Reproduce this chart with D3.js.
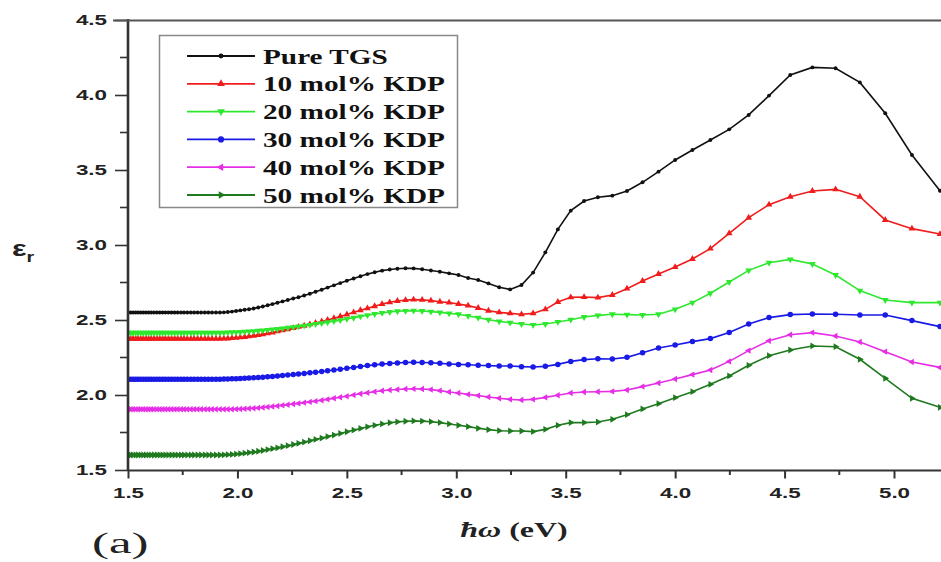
<!DOCTYPE html>
<html>
<head>
<meta charset="utf-8">
<script src="https://cdn.jsdelivr.net/npm/d3@7"></script>
<style>
  body { margin: 0; background: #fff; }
  svg { display: block; }
  .tick-label { font: bold 14px "Liberation Sans", Arial, sans-serif; fill: #222; }
  .legend-label { font: bold 22px "Liberation Serif", "Times New Roman", serif; fill: #111; }
</style>
</head>
<body>
<svg id="chart" width="941" height="562"></svg>
<script>
// photon energy (eV) shared by all samples
var energy = [1.501, 1.512, 1.523, 1.535, 1.546, 1.558, 1.570, 1.582, 1.594, 1.606,
  1.619, 1.632, 1.645, 1.658, 1.671, 1.685, 1.699, 1.713, 1.727, 1.742,
  1.756, 1.771, 1.787, 1.802, 1.818, 1.834, 1.851, 1.867, 1.884, 1.902,
  1.920, 1.938, 1.956, 1.975, 1.994, 2.013, 2.033, 2.053, 2.074, 2.095,
  2.116, 2.138, 2.160, 2.183, 2.206, 2.230, 2.255, 2.279, 2.305, 2.331,
  2.357, 2.385, 2.412, 2.441, 2.470, 2.500, 2.531, 2.562, 2.594, 2.627,
  2.661, 2.696, 2.731, 2.768, 2.805, 2.844, 2.884, 2.925, 2.967, 3.010,
  3.054, 3.100, 3.147, 3.196, 3.246, 3.298, 3.351, 3.407, 3.464, 3.523,
  3.584, 3.647, 3.713, 3.780, 3.851, 3.924, 4.000, 4.079, 4.161, 4.247,
  4.336, 4.429, 4.526, 4.627, 4.733, 4.844, 4.960, 5.082, 5.210];

var pureTGS = [2.55, 2.55, 2.55, 2.55, 2.55, 2.55, 2.55, 2.55, 2.55, 2.55,
  2.55, 2.55, 2.55, 2.55, 2.55, 2.55, 2.55, 2.55, 2.55, 2.55,
  2.55, 2.55, 2.55, 2.55, 2.55, 2.55, 2.55, 2.55, 2.55, 2.55,
  2.55, 2.551, 2.553, 2.556, 2.56, 2.564, 2.568, 2.572, 2.577, 2.583,
  2.59, 2.598, 2.606, 2.615, 2.624, 2.633, 2.643, 2.652, 2.663, 2.675,
  2.688, 2.702, 2.716, 2.731, 2.746, 2.762, 2.777, 2.792, 2.806, 2.818,
  2.829, 2.837, 2.842, 2.845, 2.844, 2.838, 2.83, 2.822, 2.811, 2.80,
  2.78, 2.767, 2.744, 2.718, 2.704, 2.733, 2.816, 2.951, 3.104, 3.229,
  3.293, 3.318, 3.329, 3.36, 3.418, 3.489, 3.567, 3.633, 3.70, 3.771,
  3.867, 3.996, 4.133, 4.184, 4.178, 4.084, 3.878, 3.60, 3.362];

var kdp10 = [2.375, 2.375, 2.375, 2.375, 2.375, 2.375, 2.375, 2.375, 2.375, 2.375,
  2.375, 2.375, 2.375, 2.375, 2.375, 2.375, 2.375, 2.375, 2.375, 2.375,
  2.375, 2.375, 2.375, 2.375, 2.375, 2.375, 2.375, 2.375, 2.375, 2.375,
  2.375, 2.376, 2.377, 2.379, 2.381, 2.384, 2.387, 2.391, 2.395, 2.40,
  2.405, 2.411, 2.417, 2.424, 2.431, 2.438, 2.446, 2.454, 2.462, 2.471,
  2.48, 2.49, 2.50, 2.512, 2.524, 2.537, 2.551, 2.565, 2.578, 2.592,
  2.606, 2.618, 2.627, 2.633, 2.636, 2.634, 2.629, 2.622, 2.616, 2.607,
  2.596, 2.58, 2.562, 2.551, 2.544, 2.538, 2.544, 2.571, 2.62, 2.651,
  2.653, 2.649, 2.667, 2.709, 2.76, 2.807, 2.853, 2.907, 2.976, 3.078,
  3.182, 3.269, 3.322, 3.36, 3.371, 3.322, 3.167, 3.109, 3.073];

var kdp20 = [2.415, 2.415, 2.415, 2.415, 2.415, 2.415, 2.415, 2.415, 2.415, 2.415,
  2.415, 2.415, 2.415, 2.415, 2.415, 2.415, 2.415, 2.415, 2.415, 2.415,
  2.415, 2.415, 2.415, 2.415, 2.415, 2.415, 2.415, 2.415, 2.415, 2.415,
  2.415, 2.416, 2.417, 2.418, 2.419, 2.42, 2.422, 2.424, 2.426, 2.428,
  2.431, 2.434, 2.437, 2.44, 2.444, 2.448, 2.452, 2.457, 2.462, 2.467,
  2.473, 2.479, 2.485, 2.492, 2.499, 2.507, 2.515, 2.524, 2.532, 2.54,
  2.547, 2.553, 2.558, 2.561, 2.562, 2.56, 2.556, 2.551, 2.544, 2.538,
  2.527, 2.516, 2.502, 2.491, 2.482, 2.473, 2.467, 2.473, 2.487, 2.502,
  2.52, 2.531, 2.538, 2.536, 2.533, 2.538, 2.571, 2.616, 2.678, 2.753,
  2.831, 2.882, 2.904, 2.873, 2.80, 2.696, 2.633, 2.616, 2.616];

var kdp30 = [2.105, 2.105, 2.105, 2.105, 2.105, 2.105, 2.105, 2.105, 2.105, 2.105,
  2.105, 2.105, 2.105, 2.105, 2.105, 2.105, 2.105, 2.105, 2.105, 2.105,
  2.105, 2.105, 2.105, 2.105, 2.105, 2.105, 2.105, 2.105, 2.105, 2.105,
  2.105, 2.106, 2.107, 2.108, 2.109, 2.11, 2.111, 2.113, 2.115, 2.117,
  2.119, 2.121, 2.124, 2.127, 2.13, 2.133, 2.136, 2.14, 2.144, 2.148,
  2.152, 2.157, 2.162, 2.167, 2.172, 2.178, 2.184, 2.19, 2.196, 2.201,
  2.206, 2.21, 2.214, 2.217, 2.218, 2.217, 2.215, 2.211, 2.207, 2.204,
  2.202, 2.198, 2.196, 2.193, 2.193, 2.189, 2.187, 2.191, 2.204, 2.224,
  2.236, 2.242, 2.24, 2.251, 2.282, 2.313, 2.333, 2.356, 2.376, 2.416,
  2.473, 2.516, 2.536, 2.54, 2.538, 2.533, 2.533, 2.496, 2.456];

var kdp40 = [1.905, 1.905, 1.905, 1.905, 1.905, 1.905, 1.905, 1.905, 1.905, 1.905,
  1.905, 1.905, 1.905, 1.905, 1.905, 1.905, 1.905, 1.905, 1.905, 1.905,
  1.905, 1.905, 1.905, 1.905, 1.905, 1.905, 1.905, 1.905, 1.905, 1.905,
  1.905, 1.905, 1.905, 1.905, 1.906, 1.907, 1.908, 1.91, 1.912, 1.914,
  1.917, 1.92, 1.923, 1.927, 1.931, 1.935, 1.94, 1.944, 1.949, 1.954,
  1.959, 1.965, 1.971, 1.978, 1.985, 1.992, 2.0, 2.008, 2.015, 2.022,
  2.028, 2.033, 2.037, 2.04, 2.041, 2.04, 2.036, 2.029, 2.02, 2.013,
  2.004, 1.996, 1.987, 1.978, 1.971, 1.967, 1.971, 1.984, 1.998, 2.013,
  2.02, 2.022, 2.024, 2.033, 2.056, 2.08, 2.107, 2.136, 2.167, 2.224,
  2.296, 2.362, 2.402, 2.416, 2.393, 2.353, 2.289, 2.22, 2.184];

var kdp50 = [1.60, 1.60, 1.60, 1.60, 1.60, 1.60, 1.60, 1.60, 1.60, 1.60,
  1.60, 1.60, 1.60, 1.60, 1.60, 1.60, 1.60, 1.60, 1.60, 1.60,
  1.60, 1.60, 1.60, 1.60, 1.60, 1.60, 1.60, 1.60, 1.60, 1.60,
  1.60, 1.601, 1.602, 1.604, 1.606, 1.609, 1.612, 1.616, 1.62, 1.625,
  1.63, 1.636, 1.642, 1.648, 1.655, 1.662, 1.67, 1.678, 1.686, 1.695,
  1.704, 1.713, 1.723, 1.733, 1.744, 1.755, 1.766, 1.777, 1.788, 1.798,
  1.807, 1.815, 1.821, 1.825, 1.827, 1.826, 1.822, 1.816, 1.807, 1.798,
  1.789, 1.778, 1.769, 1.762, 1.76, 1.76, 1.756, 1.771, 1.798, 1.816,
  1.816, 1.82, 1.838, 1.869, 1.907, 1.942, 1.982, 2.022, 2.071, 2.127,
  2.198, 2.262, 2.30, 2.327, 2.322, 2.238, 2.111, 1.978, 1.918];

var seriesNames = ["Pure TGS", "10 mol% KDP", "20 mol% KDP", "30 mol% KDP", "40 mol% KDP", "50 mol% KDP"];
var seriesValues = [pureTGS, kdp10, kdp20, kdp30, kdp40, kdp50];
var seriesColors = ["#111111", "#f01c1c", "#2ee82e", "#1a1ae6", "#e62ee6", "#1f7a1f"];

var xTicks = [1.5, 2.0, 2.5, 3.0, 3.5, 4.0, 4.5, 5.0];
var xMinor = [1.75, 2.25, 2.75, 3.25, 3.75, 4.25, 4.75];
var yTicks = [1.5, 2.0, 2.5, 3.0, 3.5, 4.0, 4.5];
var yMinor = [1.75, 2.25, 2.75, 3.25, 3.75, 4.25];

var svg = d3.select("#chart");

var x = d3.scaleLinear().domain([1.5, 5.0]).range([128, 894]);
var y = d3.scaleLinear().domain([1.5, 4.5]).range([470, 20]);

// markers, one shape per sample
var markers = [
  {type: d3.symbolCircle, size: 12, rot: 0},
  {type: d3.symbolTriangle, size: 20, rot: 0},
  {type: d3.symbolTriangle, size: 20, rot: 180},
  {type: d3.symbolCircle, size: 24, rot: 0},
  {type: d3.symbolTriangle, size: 18, rot: -90},
  {type: d3.symbolTriangle, size: 20, rot: 90}
];

svg.append("clipPath").attr("id", "plot-clip")
  .append("rect").attr("x", 128).attr("y", 19).attr("width", 813).attr("height", 452);

var plot = svg.append("g").attr("clip-path", "url(#plot-clip)");

var line = d3.line()
  .x(function(d, i) { return x(energy[i]); })
  .y(function(d) { return y(d); });

seriesValues.forEach(function(vals, s) {
  plot.append("path")
    .datum(vals)
    .attr("fill", "none")
    .attr("stroke", seriesColors[s])
    .attr("stroke-width", 1.6)
    .attr("d", line);

  plot.selectAll(".m" + s)
    .data(vals)
    .enter()
    .append("path")
    .attr("class", "m" + s)
    .attr("d", d3.symbol().type(markers[s].type).size(markers[s].size))
    .attr("fill", seriesColors[s])
    .attr("transform", function(d, i) {
      return "translate(" + x(energy[i]) + "," + y(d) + ") rotate(" + markers[s].rot + ")";
    });
});

// axes
var xAxis = svg.append("g").attr("transform", "translate(0,470.5)")
  .call(d3.axisBottom(x).tickValues(xTicks).tickSize(8).tickSizeOuter(0).tickFormat(d3.format(".1f")));
xAxis.select(".domain").remove();
xAxis.selectAll("line").attr("stroke", "#333").attr("stroke-width", 2);
xAxis.selectAll("text")
  .attr("class", "tick-label")
  .attr("y", 0).attr("dy", "0.71em")
  .attr("transform", "translate(0,18) scale(1.6,1)");

svg.append("g").selectAll("line").data(xMinor).enter().append("line")
  .attr("x1", function(d) { return x(d); }).attr("x2", function(d) { return x(d); })
  .attr("y1", 470).attr("y2", 475)
  .attr("stroke", "#333").attr("stroke-width", 2);

var yAxis = svg.append("g").attr("transform", "translate(128,0)")
  .call(d3.axisLeft(y).tickValues(yTicks).tickSize(13).tickSizeOuter(0).tickFormat(d3.format(".1f")));
yAxis.select(".domain").remove();
yAxis.selectAll("line").attr("stroke", "#333").attr("stroke-width", 1.6);
yAxis.selectAll("text")
  .attr("class", "tick-label")
  .attr("x", 0).attr("dy", "0.35em")
  .attr("text-anchor", "end")
  .attr("transform", "translate(-21,0) scale(1.6,1)");

svg.append("g").selectAll("line").data(yMinor).enter().append("line")
  .attr("x1", 120).attr("x2", 128)
  .attr("y1", function(d) { return y(d); }).attr("y2", function(d) { return y(d); })
  .attr("stroke", "#333").attr("stroke-width", 1.6);

// frame lines
svg.append("line").attr("x1", 128).attr("x2", 941).attr("y1", 470.5).attr("y2", 470.5)
  .attr("stroke", "#333").attr("stroke-width", 2);
svg.append("line").attr("x1", 128).attr("x2", 128).attr("y1", 19).attr("y2", 471)
  .attr("stroke", "#333").attr("stroke-width", 2.6);
svg.append("line").attr("x1", 113).attr("x2", 941).attr("y1", 20.5).attr("y2", 20.5)
  .attr("stroke", "#555").attr("stroke-width", 2);

// legend
var legend = svg.append("g");
legend.append("rect")
  .attr("x", 159.5).attr("y", 35.5).attr("width", 298).attr("height", 172)
  .attr("fill", "#fff").attr("stroke", "#888").attr("stroke-width", 1.5);

seriesNames.forEach(function(name, s) {
  var ry = 56 + s * 27.8;
  legend.append("line")
    .attr("x1", 187).attr("x2", 255).attr("y1", ry).attr("y2", ry)
    .attr("stroke", seriesColors[s]).attr("stroke-width", 1.8);
  legend.append("path")
    .attr("d", d3.symbol().type(markers[s].type).size(markers[s].size + 6))
    .attr("fill", seriesColors[s])
    .attr("transform", "translate(221," + ry + ") rotate(" + markers[s].rot + ")");
  legend.append("text")
    .attr("class", "legend-label")
    .attr("transform", "translate(263," + (ry + 7.5) + ") scale(1.33,1)")
    .text(name);
});

// axis titles
var yTitle = svg.append("text")
  .attr("transform", "translate(12,256) scale(1.4,1)")
  .style("font", "bold 22px 'Liberation Sans', Arial, sans-serif")
  .attr("fill", "#222");
yTitle.append("tspan").text("ε");
yTitle.append("tspan").attr("dy", 6).style("font-size", "14px").text("r");

var xTitle = svg.append("text")
  .attr("text-anchor", "middle")
  .attr("transform", "translate(514,537) scale(1.6,1)")
  .style("font", "bold 20px 'Liberation Serif', 'Times New Roman', serif")
  .attr("fill", "#222");
xTitle.append("tspan").style("font-style", "italic").text("ħω");
xTitle.append("tspan").text(" (eV)");

svg.append("text")
  .attr("transform", "translate(92,553) scale(1.7,1)")
  .style("font", "30px 'Liberation Serif', 'Times New Roman', serif")
  .attr("fill", "#222")
  .text("(a)");
</script>
</body>
</html>
